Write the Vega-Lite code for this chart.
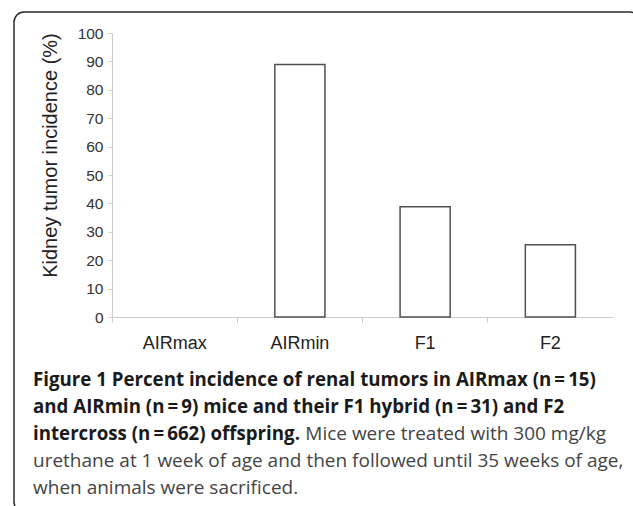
{
  "$schema": "https://vega.github.io/schema/vega-lite/v6.json",
  "autosize": "none",
  "width": 626,
  "height": 500,
  "padding": {"left": 14, "top": 12, "right": 0, "bottom": 0},
  "background": "white",
  "config": {
    "view": {"stroke": "#2a2a2a", "strokeWidth": 1.5, "cornerRadius": 10, "fill": "white"},
    "font": "Liberation Sans"
  },
  "datasets": {
    "bars": [
      {"group": "AIRmax", "incidence": 0},
      {"group": "AIRmin", "incidence": 88.9},
      {"group": "F1", "incidence": 38.8},
      {"group": "F2", "incidence": 25.4}
    ],
    "caption": [
      {"line": 1, "side": "left", "part": "head", "text": "Figure 1 Percent incidence of renal tumors in AIRmax (n\u2009=\u200915)"},
      {"line": 2, "side": "left", "part": "head", "text": "and AIRmin (n\u2009=\u20099) mice and their F1 hybrid (n\u2009=\u200931) and F2"},
      {"line": 3, "side": "left", "part": "head", "text": "intercross (n\u2009=\u2009662) offspring."},
      {"line": 3, "side": "right", "part": "body", "text": "Mice were treated with 300 mg/kg"},
      {"line": 4, "side": "left", "part": "body", "text": "urethane at 1 week of age and then followed until 35 weeks of age,"},
      {"line": 5, "side": "left", "part": "body", "text": "when animals were sacrificed."}
    ]
  },
  "layer": [
    {
      "data": {"name": "bars"},
      "mark": {"type": "bar", "fill": "white", "stroke": "#505050", "strokeWidth": 1.5, "width": {"band": 0.4}},
      "encoding": {
        "x": {
          "field": "group", "type": "nominal", "sort": null,
          "scale": {"range": [98, 599], "paddingInner": 0, "paddingOuter": 0},
          "axis": {
            "title": null, "offset": -195, "bandPosition": 0, "labelAngle": 0,
            "domainColor": "#cccccc", "tickColor": "#cccccc", "tickSize": 5,
            "labelFontSize": 18, "labelColor": "#222222", "labelPadding": 12
          }
        },
        "y": {
          "field": "incidence", "type": "quantitative",
          "scale": {"domain": [0, 100], "range": [305, 21], "nice": false},
          "axis": {
            "offset": -98, "values": [0, 10, 20, 30, 40, 50, 60, 70, 80, 90, 100],
            "grid": false, "domainColor": "#cccccc", "tickColor": "#cccccc", "tickSize": 4,
            "labelFontSize": 15.5, "labelColor": "#333333", "labelPadding": 5,
            "title": "Kidney tumor incidence (%)", "titleFontSize": 20, "titleFontWeight": "normal",
            "titleColor": "#222222", "titleX": -62, "titleY": 143, "titleAngle": 270,
            "titleBaseline": "middle", "titleAlign": "center"
          }
        },
        "strokeOpacity": {"condition": {"test": "datum.incidence > 0", "value": 1}, "value": 0}
      }
    },
    {
      "data": {"name": "caption"},
      "transform": [{"filter": "datum.part === 'head'"}],
      "mark": {"type": "text", "align": "left", "baseline": "middle", "font": "Open Sans", "fontWeight": "bold", "fontSize": 18.7, "color": "#1a1a1a"},
      "encoding": {
        "x": {"field": "side", "type": "nominal", "scale": {"type": "point", "domain": ["left", "right"], "range": [19, 592], "padding": 0}, "axis": null},
        "y": {"field": "line", "type": "quantitative", "scale": {"domain": [1, 5], "range": [368, 476]}, "axis": null},
        "text": {"field": "text"}
      }
    },
    {
      "data": {"name": "caption"},
      "transform": [{"filter": "datum.part === 'body' && datum.side === 'left'"}],
      "mark": {"type": "text", "align": "left", "baseline": "middle", "font": "Open Sans", "fontSize": 19, "color": "#444444"},
      "encoding": {
        "x": {"field": "side", "type": "nominal", "scale": {"type": "point", "domain": ["left", "right"], "range": [19, 592], "padding": 0}, "axis": null},
        "y": {"field": "line", "type": "quantitative", "scale": {"domain": [1, 5], "range": [368, 476]}, "axis": null},
        "text": {"field": "text"}
      }
    },
    {
      "data": {"name": "caption"},
      "transform": [{"filter": "datum.part === 'body' && datum.side === 'right'"}],
      "mark": {"type": "text", "align": "right", "baseline": "middle", "font": "Open Sans", "fontSize": 19, "color": "#444444"},
      "encoding": {
        "x": {"field": "side", "type": "nominal", "scale": {"type": "point", "domain": ["left", "right"], "range": [19, 592], "padding": 0}, "axis": null},
        "y": {"field": "line", "type": "quantitative", "scale": {"domain": [1, 5], "range": [368, 476]}, "axis": null},
        "text": {"field": "text"}
      }
    }
  ],
  "resolve": {"scale": {"x": "independent", "y": "independent"}, "axis": {"x": "independent", "y": "independent"}}
}
